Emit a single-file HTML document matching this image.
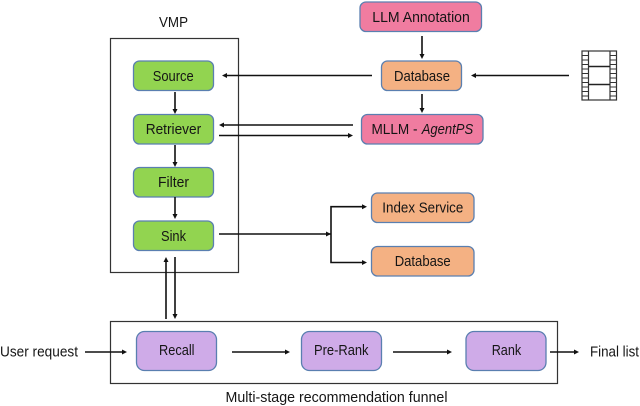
<!DOCTYPE html>
<html>
<head>
<meta charset="utf-8">
<style>
html,body{margin:0;padding:0;background:#fff;}
svg{display:block;}
text{font-family:"Liberation Sans",sans-serif;font-size:14.6px;fill:#151515;}
.b{stroke:#5a7fb0;stroke-width:1.3;}
.g{fill:#92d450;}
.o{fill:#f4b183;}
.p{fill:#f07ca0;}
.u{fill:#cfabe8;}
.l{stroke:#111;stroke-width:1.6;fill:none;}
.c{fill:none;stroke:#333;stroke-width:1.2;}
.h{fill:#111;}
</style>
</head>
<body>
<svg width="640" height="406" viewBox="0 0 640 406" xmlns="http://www.w3.org/2000/svg">
<rect width="640" height="406" fill="#fff"/>
<rect class="c" x="110.5" y="38.5" width="128" height="234"/>
<rect class="c" x="110.5" y="321.5" width="447" height="62"/>

<rect class="b g" x="133.5" y="61" width="80" height="29.5" rx="6"/>
<rect class="b g" x="133.5" y="114.5" width="80" height="29.5" rx="6"/>
<rect class="b g" x="133.5" y="167.5" width="80" height="29.5" rx="6"/>
<rect class="b g" x="133.5" y="221" width="80" height="29.5" rx="6"/>
<rect class="b p" x="360" y="2" width="121.5" height="29.5" rx="6"/>
<rect class="b o" x="381.5" y="61" width="80" height="29.5" rx="6"/>
<rect class="b p" x="361.5" y="114.5" width="121.5" height="29.5" rx="6"/>
<rect class="b o" x="371.5" y="193" width="102.5" height="29.5" rx="6"/>
<rect class="b o" x="371.5" y="246.5" width="102.5" height="29.5" rx="6"/>
<rect class="b u" x="136.5" y="331.5" width="80" height="39" rx="8"/>
<rect class="b u" x="301.5" y="331.5" width="80" height="39" rx="8"/>
<rect class="b u" x="466" y="331.5" width="80" height="39" rx="8"/>

<path class="l" d="M175 92V111M175 145V164M175 197V216M422 36V56M422 94V110"/>
<path class="h" d="M175 114l-2.5-5h5zM175 167l-2.5-5h5zM175 219l-2.5-5h5zM422 59l-2.5-5h5zM422 113l-2.5-5h5z"/>
<path class="l" d="M372 75.5H226M569 75.5H474M353 125H223M219 135.5H350"/>
<path class="h" d="M222 75.5l5-2.5v5zM471 75.5l5-2.5v5zM219 125l5-2.5v5zM353 135.5l-5-2.5v5z"/>
<path class="l" d="M219 234H331M364 206.7H331V262.5H364"/>
<path class="h" d="M331 234l-5-2.5v5zM367 206.7l-5-2.5v5zM367 262.5l-5-2.5v5z"/>
<path class="l" d="M166 260V319M175 257V316"/>
<path class="h" d="M166 257l-2.5 5h5zM175 319l-2.5-5h5z"/>
<path class="l" d="M85 352H124M232 352H287M393 352H449M550 352H576"/>
<path class="h" d="M127 352l-5-2.5v5zM290 352l-5-2.5v5zM452 352l-5-2.5v5zM579 352l-5-2.5v5z"/>

<g stroke="#333" fill="none">
<rect x="582" y="51" width="34.5" height="49" stroke-width="1.2"/>
<path stroke-width="1.2" d="M588.5 51V100M610 51V100"/>
<path stroke-width="1.4" stroke="#222" d="M588.5 66.5H610M588.5 84.5H610"/>
<path stroke-width="0.9" d="M582 55.5H588.5M582 60H588.5M582 64.5H588.5M582 69H588.5M582 73.5H588.5M582 78H588.5M582 82.5H588.5M582 87H588.5M582 91.5H588.5M582 96H588.5M610 55.5H616.5M610 60H616.5M610 64.5H616.5M610 69H616.5M610 73.5H616.5M610 78H616.5M610 82.5H616.5M610 87H616.5M610 91.5H616.5M610 96H616.5"/>
</g>

<text x="159" y="27" textLength="29" lengthAdjust="spacingAndGlyphs">VMP</text>
<text x="152.7" y="81" textLength="41" lengthAdjust="spacingAndGlyphs">Source</text>
<text x="145.7" y="134" textLength="55.5" lengthAdjust="spacingAndGlyphs">Retriever</text>
<text x="158" y="187" textLength="31" lengthAdjust="spacingAndGlyphs">Filter</text>
<text x="161" y="241" textLength="25" lengthAdjust="spacingAndGlyphs">Sink</text>
<text x="372.3" y="22" textLength="97.5" lengthAdjust="spacingAndGlyphs">LLM Annotation</text>
<text x="394" y="81" textLength="56" lengthAdjust="spacingAndGlyphs">Database</text>
<text x="371.5" y="134" textLength="46" lengthAdjust="spacingAndGlyphs">MLLM -</text>
<text x="421.7" y="134" textLength="51.5" lengthAdjust="spacingAndGlyphs" font-style="italic">AgentPS</text>
<text x="382.3" y="212.5" textLength="81" lengthAdjust="spacingAndGlyphs">Index Service</text>
<text x="394.7" y="266" textLength="56" lengthAdjust="spacingAndGlyphs">Database</text>
<text x="0" y="356.5" textLength="78" lengthAdjust="spacingAndGlyphs">User request</text>
<text x="159" y="355" textLength="35.5" lengthAdjust="spacingAndGlyphs">Recall</text>
<text x="314" y="355" textLength="54.5" lengthAdjust="spacingAndGlyphs">Pre-Rank</text>
<text x="491.7" y="355" textLength="29.5" lengthAdjust="spacingAndGlyphs">Rank</text>
<text x="590" y="356.5" textLength="49" lengthAdjust="spacingAndGlyphs">Final list</text>
<text x="225.5" y="402" textLength="222" lengthAdjust="spacingAndGlyphs">Multi-stage recommendation funnel</text>
</svg>
</body>
</html>
